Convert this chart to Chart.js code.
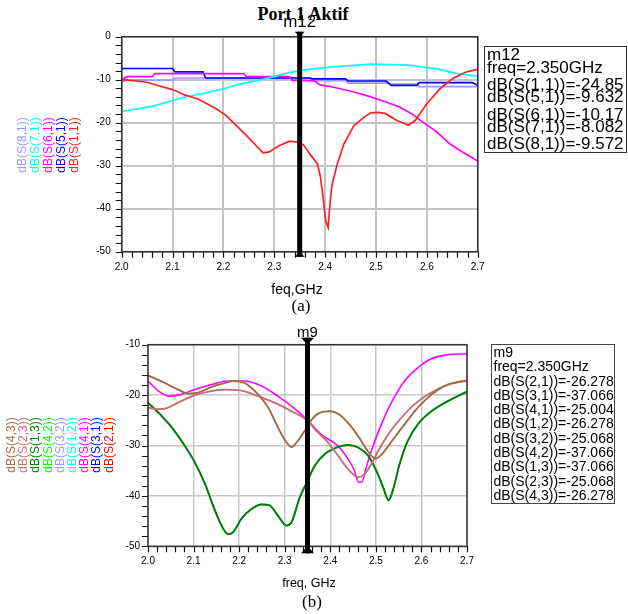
<!DOCTYPE html>
<html>
<head>
<meta charset="utf-8">
<script src="https://cdn.jsdelivr.net/npm/chart.js@4.4.0/dist/chart.umd.min.js"></script>
<style>
    html, body { margin: 0; padding: 0; background: #fff; }
    body { position: relative; width: 628px; height: 614px; overflow: hidden; font-family: "Liberation Sans", Arial, sans-serif; color: #000; }
    canvas { position: absolute; left: 0; }
    .txt { position: absolute; white-space: nowrap; }
    .serif { font-family: "Liberation Serif", "Times New Roman", serif; }
    .rot { position: absolute; white-space: nowrap; font-size: 12px; line-height: 12px; transform: translate(-50%, -50%) rotate(-90deg); }
    .mbox { position: absolute; box-sizing: border-box; border: 1.5px solid #333; }
</style>
</head>
<body>
<div class="txt serif" style="left:203px;top:5px;width:200px;text-align:center;font-weight:bold;font-size:18px;line-height:18px;">Port 1 Aktif</div>
<canvas id="chart-a" width="628" height="300" style="top:0"></canvas>
<canvas id="chart-b" width="628" height="304" style="top:310px"></canvas>
<div class="txt" style="left:247px;top:282px;width:100px;text-align:center;font-size:14px;line-height:14px;">feq,GHz</div>
<div class="txt serif" style="left:271px;top:297px;width:60px;text-align:center;font-size:17px;line-height:17px;">(a)</div>
<div class="txt" style="left:259px;top:577px;width:100px;text-align:center;font-size:12.5px;line-height:12.5px;">freq, GHz</div>
<div class="txt serif" style="left:282px;top:593px;width:60px;text-align:center;font-size:17px;line-height:17px;">(b)</div>
<script>
// ─── Data: (a) Port 1 Aktif ───────────────────────────────────────────────────
const freqTicks = [2.0, 2.1, 2.2, 2.3, 2.4, 2.5, 2.6, 2.7];
const dbTicksA = [-50, -40, -30, -20, -10, 0];
const dbTicksB = [-50, -40, -30, -20, -10];

const s11Freq = [2.0, 2.03, 2.05, 2.07, 2.1, 2.125, 2.15, 2.185, 2.205, 2.225, 2.248, 2.264, 2.278, 2.29, 2.31, 2.33, 2.345, 2.357, 2.372, 2.385, 2.391, 2.396, 2.401, 2.406, 2.41, 2.414, 2.424, 2.437, 2.457, 2.477, 2.49, 2.505, 2.519, 2.541, 2.564, 2.577, 2.6, 2.626, 2.651, 2.677, 2.7];
const s11dB = [-10.0, -10.3, -10.6, -11.3, -12.3, -13.6, -14.5, -16.7, -18.3, -20.6, -23.3, -25.3, -27.0, -26.8, -25.3, -24.3, -24.5, -25.1, -27.6, -29.6, -32.7, -37.4, -42.8, -44.4, -38.1, -34.2, -29.6, -24.9, -20.6, -18.7, -17.7, -17.6, -17.9, -19.5, -20.6, -19.5, -15.6, -12.1, -9.7, -8.2, -7.6];

const s71Freq = [2.0, 2.03, 2.06, 2.1, 2.125, 2.16, 2.2, 2.23, 2.27, 2.3, 2.32, 2.345, 2.375, 2.415, 2.49, 2.565, 2.625, 2.66, 2.7];
const s71dB = [-17.4, -16.8, -16.2, -14.9, -14.0, -13.2, -12.1, -11.1, -10.1, -9.3, -8.6, -8.0, -7.5, -7.0, -6.4, -6.6, -7.6, -8.6, -9.2];

const s61Freq = [2.0, 2.01, 2.06, 2.065, 2.24, 2.245, 2.33, 2.335, 2.38, 2.39, 2.415, 2.455, 2.49, 2.52, 2.545, 2.57, 2.595, 2.62, 2.645, 2.67, 2.7];
const s61dB = [-10.0, -9.3, -9.3, -8.6, -8.6, -9.3, -9.3, -10.1, -10.3, -11.2, -11.7, -12.8, -14.0, -15.2, -16.3, -17.9, -20.1, -22.2, -24.9, -26.8, -28.9];

const s51Freq = [2.0, 2.1, 2.105, 2.16, 2.165, 2.37, 2.375, 2.44, 2.445, 2.52, 2.53, 2.58, 2.585, 2.69, 2.7];
const s51dB = [-7.4, -7.4, -8.2, -8.2, -9.6, -9.6, -9.8, -9.8, -10.3, -10.3, -11.3, -11.3, -10.7, -10.7, -11.3];

const s81Freq = [2.0, 2.01, 2.1, 2.105, 2.37, 2.375, 2.44, 2.445, 2.52, 2.53, 2.58, 2.585, 2.7];
const s81dB = [-10.5, -10.1, -10.1, -9.6, -9.6, -10.2, -10.2, -10.8, -10.8, -11.0, -11.0, -11.6, -11.6];

const markerFreqA = 2.35;
const markerLinesA = ["m12", "freq=2.350GHz", "dB(S(1,1))=-24.85", "dB(S(5,1))=-9.632", "dB(S(6,1))=-10.17", "dB(S(7,1))=-8.082", "dB(S(8,1))=-9.572"];

// ─── Data: (b) ────────────────────────────────────────────────────────────────
const s43Freq = [2.0, 2.037, 2.066, 2.088, 2.11, 2.139, 2.169, 2.187, 2.212, 2.242, 2.264, 2.285, 2.304, 2.315, 2.326, 2.34, 2.351, 2.358, 2.377, 2.399, 2.417, 2.439, 2.461, 2.479, 2.492, 2.5, 2.508, 2.519, 2.541, 2.563, 2.592, 2.622, 2.651, 2.68, 2.7];
const s43dB = [-16.1, -17.6, -18.9, -19.7, -19.5, -18.4, -17.6, -17.2, -17.6, -19.9, -22.5, -26.4, -29.4, -30.3, -29.4, -27.6, -26.2, -25.0, -23.5, -23.2, -23.7, -25.5, -28.1, -30.7, -32.2, -32.6, -32.2, -31.1, -28.4, -25.8, -22.5, -19.9, -18.2, -17.4, -17.2];

const s23Freq = [2.0, 2.023, 2.037, 2.066, 2.103, 2.139, 2.169, 2.205, 2.242, 2.285, 2.315, 2.347, 2.373, 2.395, 2.417, 2.439, 2.461, 2.475, 2.49, 2.505, 2.527, 2.556, 2.585, 2.622, 2.658, 2.7];
const s23dB = [-22.5, -22.8, -22.7, -21.5, -20.0, -19.2, -18.9, -19.1, -20.2, -21.8, -23.2, -24.9, -27.4, -29.4, -32.0, -34.7, -36.3, -35.7, -33.7, -31.1, -27.8, -24.5, -21.8, -19.5, -17.9, -17.1];

const s41Freq = [2.0, 2.023, 2.045, 2.066, 2.103, 2.139, 2.176, 2.212, 2.249, 2.285, 2.315, 2.347, 2.38, 2.417, 2.439, 2.453, 2.462, 2.469, 2.479, 2.49, 2.512, 2.534, 2.563, 2.592, 2.622, 2.658, 2.7];
const s41dB = [-17.2, -19.2, -20.2, -20.0, -18.9, -17.9, -17.2, -17.2, -18.2, -20.2, -22.2, -24.7, -27.8, -30.1, -32.7, -35.0, -37.3, -37.3, -34.3, -31.1, -25.8, -21.5, -17.2, -14.6, -12.8, -12.0, -11.8];

const s13Freq = [2.0, 2.023, 2.052, 2.081, 2.103, 2.125, 2.147, 2.165, 2.176, 2.187, 2.205, 2.227, 2.249, 2.267, 2.285, 2.304, 2.315, 2.333, 2.347, 2.366, 2.388, 2.417, 2.439, 2.461, 2.483, 2.501, 2.516, 2.528, 2.537, 2.552, 2.57, 2.592, 2.622, 2.658, 2.7];
const s13dB = [-21.5, -23.5, -26.4, -30.1, -33.4, -37.6, -42.9, -46.5, -47.6, -47.2, -44.5, -42.6, -41.7, -41.9, -43.9, -45.9, -45.2, -40.3, -37.6, -34.0, -31.7, -30.3, -29.9, -30.4, -32.0, -35.0, -38.3, -40.9, -39.0, -33.7, -29.1, -25.8, -23.2, -21.2, -19.3];

// symmetric network: these traces coincide (same marker values)
const s21dB = s43dB, s12dB = s43dB;
const s32dB = s23dB;
const s31dB = s13dB, s42dB = s13dB;

const markerFreqB = 2.35;
const markerLinesB = ["m9", "freq=2.350GHz", "dB(S(2,1))=-26.278", "dB(S(3,1))=-37.066", "dB(S(4,1))=-25.004", "dB(S(1,2))=-26.278", "dB(S(3,2))=-25.068", "dB(S(4,2))=-37.066", "dB(S(1,3))=-37.066", "dB(S(2,3))=-25.068", "dB(S(4,3))=-26.278"];

// ─── Helpers ──────────────────────────────────────────────────────────────────
const pts = (f, d) => f.map((x, i) => ({ x, y: d[i] }));

function withMinorTicks(majors, parts) {
    const out = [];
    for (let i = 0; i < majors.length - 1; i++) {
        const a = majors[i], b = majors[i + 1];
        for (let k = 0; k < parts; k++) out.push({ value: a + (b - a) * k / parts, major: k === 0 });
    }
    out.push({ value: majors[majors.length - 1], major: true });
    return out;
}

function axis(majors, fmt, fit, pad, gridColor, gridWidth) {
    return {
        type: "linear",
        min: majors[0],
        max: majors[majors.length - 1],
        afterBuildTicks: (s) => { s.ticks = withMinorTicks(majors, 5); },
        afterFit: fit,
        border: { display: false },
        grid: {
            color: (c) => (c.tick && c.tick.major ? gridColor : "rgba(0,0,0,0)"),
            lineWidth: gridWidth,
            drawTicks: false,
        },
        ticks: {
            autoSkip: false,
            maxRotation: 0,
            padding: pad + 6,
            color: "#000",
            font: { family: "Liberation Sans", size: 10 },
            callback: (v, i, t) => (t[i].major ? fmt(v) : ""),
        },
    };
}

// frame, outward tick marks, marker line with triangles, marker name
const markerPlugin = {
    id: "marker",
    afterDatasetsDraw(chart, args, o) {
        const { ctx, chartArea: a } = chart;
        const { x, y } = chart.scales;
        ctx.save();
        ctx.strokeStyle = "#111";
        ctx.lineWidth = 1.2;
        ctx.beginPath();
        x.ticks.forEach((t) => {
            const p = Math.round(x.getPixelForValue(t.value)) + 0.5;
            ctx.moveTo(p, a.bottom);
            ctx.lineTo(p, a.bottom + 6);
        });
        y.ticks.forEach((t) => {
            const p = Math.round(y.getPixelForValue(t.value)) + 0.5;
            ctx.moveTo(a.left - 6, p);
            ctx.lineTo(a.left, p);
        });
        ctx.stroke();

        ctx.strokeStyle = "#333";
        ctx.lineWidth = 1.5;
        ctx.strokeRect(a.left, a.top, a.right - a.left, a.bottom - a.top);

        const px = x.getPixelForValue(o.freq);
        ctx.fillStyle = "#000";
        ctx.fillRect(px - 2.5, a.top - o.triH, 5, a.bottom - a.top + 2 * o.triH);
        ctx.beginPath();
        ctx.moveTo(px - o.triW / 2, a.top - o.triH);
        ctx.lineTo(px + o.triW / 2, a.top - o.triH);
        ctx.lineTo(px, a.top);
        ctx.closePath();
        ctx.fill();
        ctx.beginPath();
        ctx.moveTo(px, a.bottom);
        ctx.lineTo(px - o.triW / 2, a.bottom + o.triH);
        ctx.lineTo(px + o.triW / 2, a.bottom + o.triH);
        ctx.closePath();
        ctx.fill();
        ctx.font = o.font;
        ctx.textAlign = "center";
        ctx.textBaseline = "alphabetic";
        ctx.fillText(o.label, px, o.labelY);
        ctx.restore();
    },
};

function makeChart(id, datasets, padding, xAxis, yAxis, marker, tension) {
    return new Chart(document.getElementById(id), {
        type: "line",
        data: { datasets },
        options: {
            responsive: false,
            animation: false,
            events: [],
            layout: { padding },
            elements: {
                point: { radius: 0 },
                line: { borderWidth: 1.7, tension, cubicInterpolationMode: tension ? "monotone" : "default" },
            },
            plugins: { legend: { display: false }, tooltip: { enabled: false }, marker },
            scales: { x: xAxis, y: yAxis },
        },
        plugins: [markerPlugin],
    });
}

function rotLabels(sets, x0, dx, cy) {
    sets.forEach((s, i) => {
        const d = document.createElement("div");
        d.className = "rot";
        d.textContent = s.label;
        d.style.color = s.borderColor;
        d.style.left = (x0 + i * dx) + "px";
        d.style.top = cy + "px";
        document.body.appendChild(d);
    });
}

// ─── Chart (a) ────────────────────────────────────────────────────────────────
const setsA = [
    { label: "dB(S(1,1))", data: pts(s11Freq, s11dB), borderColor: "#ff2020" },
    { label: "dB(S(7,1))", data: pts(s71Freq, s71dB), borderColor: "#00ffff" },
    { label: "dB(S(6,1))", data: pts(s61Freq, s61dB), borderColor: "#ff00ff" },
    { label: "dB(S(5,1))", data: pts(s51Freq, s51dB), borderColor: "#0000ff" },
    { label: "dB(S(8,1))", data: pts(s81Freq, s81dB), borderColor: "#9999ff" },
];

makeChart(
    "chart-a",
    setsA,
    { left: 93.7, top: 36.7, right: 150.3, bottom: 18.3 },
    axis(freqTicks, (v) => v.toFixed(1), (s) => { s.height = 30; }, 4, "#c4c4c4", 2),
    axis(dbTicksA, (v) => String(Math.round(v)), (s) => { s.width = 28; }, 5, "#c4c4c4", 2),
    { freq: markerFreqA, label: "m12", labelY: 26.5, font: "17px 'Liberation Sans'", triW: 10, triH: 5 },
    0
);

// legend order left → right
rotLabels([setsA[4], setsA[1], setsA[2], setsA[3], setsA[0]], 21.7, 13.1, 145);

// ─── Chart (b) ────────────────────────────────────────────────────────────────
const setsB = [
    { label: "dB(S(4,3))", data: pts(s43Freq, s43dB), borderColor: "#a86a45", borderWidth: 1.8 },
    { label: "dB(S(2,3))", data: pts(s23Freq, s23dB), borderColor: "#c87070", borderWidth: 1.8 },
    { label: "dB(S(1,3))", data: pts(s13Freq, s13dB), borderColor: "#008000", borderWidth: 1.9 },
    { label: "dB(S(4,2))", data: pts(s13Freq, s42dB), borderColor: "#00ff00", borderWidth: 1.2 },
    { label: "dB(S(3,2))", data: pts(s23Freq, s32dB), borderColor: "#9999ff", borderWidth: 1.2 },
    { label: "dB(S(1,2))", data: pts(s43Freq, s12dB), borderColor: "#00ffff", borderWidth: 1.2 },
    { label: "dB(S(4,1))", data: pts(s41Freq, s41dB), borderColor: "#ff00ff", borderWidth: 1.6 },
    { label: "dB(S(3,1))", data: pts(s13Freq, s31dB), borderColor: "#0000ff", borderWidth: 1.2 },
    { label: "dB(S(2,1))", data: pts(s43Freq, s21dB), borderColor: "#ff0000", borderWidth: 1.2 },
];

makeChart(
    "chart-b",
    setsB,
    { left: 118, top: 34.7, right: 161, bottom: 37.7 },
    axis(freqTicks, (v) => v.toFixed(1), (s) => { s.height = 30; }, 3, "#c8c8c8", 1.5),
    axis(dbTicksB, (v) => String(Math.round(v)), (s) => { s.width = 30; }, 2, "#c8c8c8", 1.5),
    { freq: markerFreqB, label: "m9", labelY: 27, font: "15px 'Liberation Sans'", triW: 13, triH: 7 },
    0.4
);

rotLabels(setsB, 11, 12.2, 445);

// ─── Marker readouts ──────────────────────────────────────────────────────────
const boxA = document.createElement("div");
boxA.className = "mbox";
Object.assign(boxA.style, { left: "484px", top: "46px", width: "143px", height: "107px" });
document.body.appendChild(boxA);
const baselinesA = [60, 73.6, 90, 102.5, 120.5, 132.5, 149.5];
markerLinesA.forEach((t, i) => {
    const d = document.createElement("div");
    d.className = "txt";
    d.textContent = t;
    Object.assign(d.style, { left: "487px", top: (baselinesA[i] - 14.4) + "px", fontSize: "17px", lineHeight: "17px" });
    document.body.appendChild(d);
});

const boxB = document.createElement("div");
boxB.className = "mbox";
Object.assign(boxB.style, { left: "491px", top: "344px", width: "124px", height: "159.5px", border: "1px solid #444", paddingLeft: "1.5px", fontSize: "14px", lineHeight: "14.3px" });
markerLinesB.forEach((t) => {
    const d = document.createElement("div");
    d.style.whiteSpace = "nowrap";
    d.textContent = t;
    boxB.appendChild(d);
});
document.body.appendChild(boxB);
</script>
</body>
</html>
